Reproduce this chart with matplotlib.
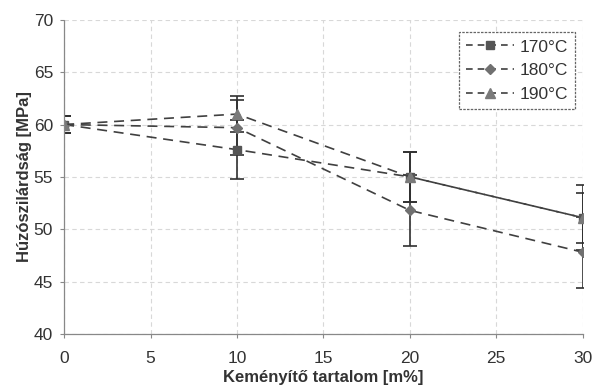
import numpy as np
import matplotlib.pyplot as plt
from matplotlib.lines import Line2D

plt.rcParams['font.family'] = ['Liberation Sans', 'DejaVu Sans']

x = [0, 10, 20, 30]
temps = ['170°C', '180°C', '190°C']
y170 = [60.0, 57.6, 55.0, 51.1]
y180 = [60.0, 59.7, 51.8, 47.8]
y190 = [60.0, 61.0, 55.0, 51.1]
e170 = [0.8, 2.8, 2.4, 3.1]
e180 = [0.8, 2.6, 3.4, 3.4]
e190 = [0.8, 1.7, 2.4, 2.4]

fig = plt.figure(figsize=(5.94, 3.9), dpi=100)
ax = fig.add_axes([0.108, 0.144, 0.873, 0.805])

styles = [('s', '#555555', 6), ('D', '#707070', 5), ('^', '#7a7a7a', 7)]
handles = []
for ys, es, lab, (m, c, ms) in zip([y170, y180, y190], [e170, e180, e190], temps, styles):
    ax.errorbar(x, ys, yerr=es, fmt=m, ls=(0, (6, 4)), color='#404040', mfc=c, mec=c,
                ms=ms, lw=1.2, ecolor='#303030', elinewidth=1.2, capsize=5, capthick=1.2)
    handles.append(Line2D([], [], marker=m, ls=(0, (4, 3)), color='#404040', mfc=c, mec=c,
                          ms=ms, lw=1.2, label=lab))

ax.set_xlim(0, 30)
ax.set_ylim(40, 70)
ax.set_xticks(np.arange(0, 31, 5))
ax.set_yticks(np.arange(40, 71, 5))
ax.grid(True, color='#d8d8d8', ls=(0, (4, 3)), lw=0.8)
for s in ['top', 'right']:
    ax.spines[s].set_visible(False)
for s in ['left', 'bottom']:
    ax.spines[s].set_color('#888888')
    ax.spines[s].set_linestyle((0, (2, 1)))
    ax.spines[s].set_linewidth(0.9)
ax.tick_params(labelsize=12.5, colors='#333333', length=3, color='#888888')
ax.tick_params(axis='x', pad=9)
ax.tick_params(axis='y', pad=5)
ax.set_xlabel('Keményítő tartalom [m%]', fontsize=12, fontweight='bold', color='#333333', labelpad=3)
ax.set_ylabel('Húzószilárdság [MPa]', fontsize=12, fontweight='bold', color='#333333', labelpad=1)

leg = ax.legend(handles=handles, loc='upper right', bbox_to_anchor=(0.985, 0.96), fontsize=12.5,
                handlelength=2.8, handletextpad=0.3, fancybox=False, framealpha=1,
                edgecolor='#666666', borderpad=0.4, labelspacing=0.5, borderaxespad=0)
leg.get_frame().set_linestyle((0, (2, 1)))
leg.get_frame().set_linewidth(0.9)
for t in leg.get_texts():
    t.set_color('#333333')

fig.savefig('out.png', dpi=100)
